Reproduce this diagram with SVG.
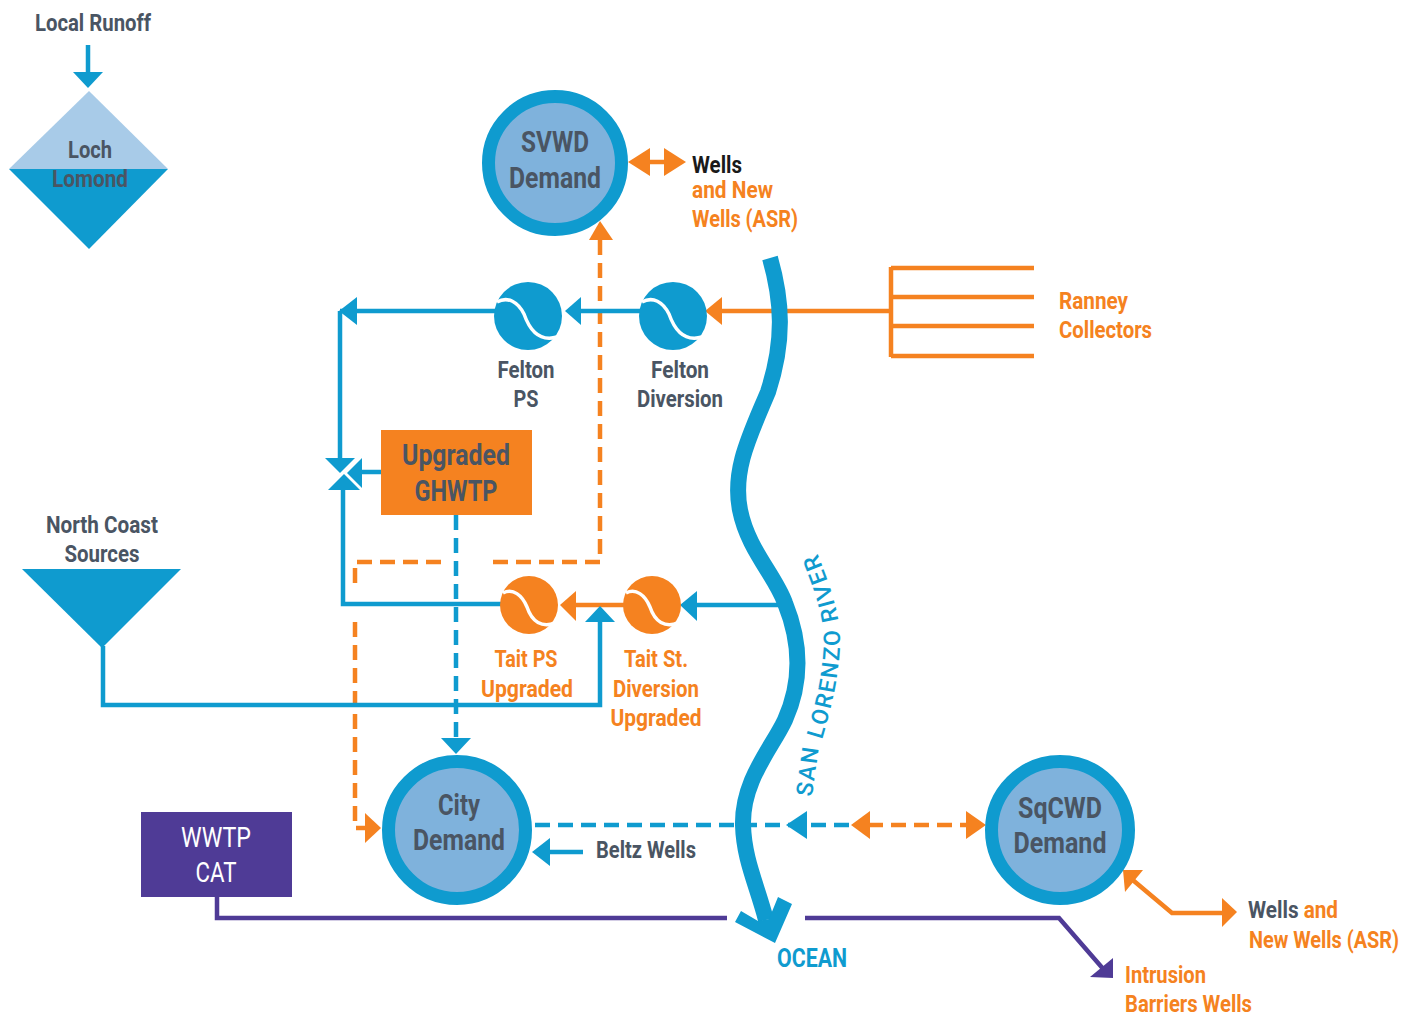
<svg xmlns="http://www.w3.org/2000/svg" width="1403" height="1017" viewBox="0 0 1403 1017">
<style>
text{font-family:"Roboto","Liberation Sans",sans-serif;font-size:24px;font-weight:700;text-anchor:middle}
.st{text-anchor:start}
.big{font-size:29px}
.d{fill:#4a5563}.o{fill:#f58220}.b{fill:#0f9bcf}.k{fill:#1a1a1a}.w{fill:#fff;font-weight:400}
.l{fill:none;stroke-width:4.5}
.cb{stroke:#0f9bcf}.co{stroke:#f58220}.cp{stroke:#4f3b96}
.da{stroke-dasharray:15 8}
.fb{fill:#0f9bcf}.fo{fill:#f58220}.fp{fill:#4f3b96}
.s{fill:none;stroke:#fff;stroke-width:3.5}
.ring{fill:#7fb2dc;stroke:#0f9bcf;stroke-width:13}
</style>
<defs><path id="riverlabel" d="M812 797L818 753C826 725 838 690 840 645C841 615 830 585 817 553"/></defs>
<rect width="1403" height="1017" fill="#fff"/>
<g id="connectors">
<path class="l cb" d="M88 45V75"/><polygon class="fb" points="73,72 103,72 88,88"/>
<path class="l co" d="M640 162H675"/><polygon class="fo" points="628,162 650,148 650,176"/><polygon class="fo" points="686,162 664,148 664,176"/>
<path class="l co da" d="M600 240V562H490"/>
<path class="l co da" d="M441 562H355V588"/>
<path class="l co da" d="M355 622V828H365"/>
<polygon class="fo" points="600,221 589,240 613,240"/>
<polygon class="fo" points="381,828 365,813 365,843"/>
<path class="l co" d="M715 311H891M891 267V357M891 268H1034M891 297H1034M891 326H1034M891 356H1034"/>
<polygon class="fo" points="705,311 722,297 722,325"/>
<path class="l cb" d="M575 311H645"/><polygon class="fb" points="565,311 581,297 581,325"/>
<path class="l cb" d="M340 311H500"/><polygon class="fb" points="339,311 357,297 357,325"/>
<path class="l cb" d="M340 311V460"/>
<path class="l cb" d="M343 488V604H505"/>
<path class="l cb" d="M358 472H382"/>
<path class="l cb da" d="M456 515V740"/><polygon class="fb" points="441,738 471,738 456,754"/>
<path class="l co" d="M570 605H630"/><polygon class="fo" points="560,605 576,591 576,621"/>
<path class="l cb" d="M690 605H785"/><polygon class="fb" points="680,605 697,591 697,621"/>
<path class="l cb" d="M103 646V705H600V620"/><polygon class="fb" points="600,606 585,622 615,622"/>
<path class="l cb da" d="M535 825H855"/>
<polygon class="fb" points="786,825 807,811 807,839"/>
<path class="l co da" d="M868 825H972"/>
<polygon class="fo" points="851,825 870,811 870,839"/><polygon class="fo" points="986,825 966,811 966,839"/>
<path class="l cb" d="M545 852H583"/><polygon class="fb" points="532,852 550,838 550,866"/>
<path class="l co" d="M1128 876L1172 913H1225"/><polygon class="fo" points="1123,870 1143,870 1125,892"/><polygon class="fo" points="1237,912 1222,898 1222,927"/>
<path class="l cp" d="M217 896V918H727M805 918H1059L1105 971"/><polygon class="fp" points="1090,977 1113,978 1113,958"/>
</g>
<g id="river">
<path fill="none" stroke="#0f9bcf" stroke-width="16" d="M770 258C782 300 785 340 768 392C750 435 732 470 740 510C748 550 775 575 785 603C800 640 803 680 785 720C772 748 742 780 743 825C744 860 757 885 766 920"/>
<polygon class="fb" points="741,911 735,922 775,943 792,904 778,897 769,919 758,921"/>
<text class="b" style="text-anchor:start;font-weight:500;font-size:23px;letter-spacing:1.8px"><textPath href="#riverlabel">SAN LORENZO RIVER</textPath></text>
<text class="b" x="812" y="967" textLength="70" lengthAdjust="spacingAndGlyphs" style="font-size:25px">OCEAN</text>
</g>
<g id="local-runoff"><text class="d" x="93" y="31" textLength="116" lengthAdjust="spacingAndGlyphs">Local Runoff</text></g>
<g id="loch-lomond">
<polygon fill="#a8cbe8" points="89,91 168,169 9,169"/>
<polygon class="fb" points="9,169 168,169 89,249"/>
<text class="d" x="90" y="158" textLength="44" lengthAdjust="spacingAndGlyphs">Loch</text><text class="d" x="90" y="187" textLength="76" lengthAdjust="spacingAndGlyphs">Lomond</text>
</g>
<g id="svwd-demand"><circle class="ring" cx="555" cy="163" r="66.5"/>
<text class="d big" x="555" y="152" textLength="68" lengthAdjust="spacingAndGlyphs">SVWD</text><text class="d big" x="555" y="188" textLength="92" lengthAdjust="spacingAndGlyphs">Demand</text></g>
<g id="svwd-wells"><text class="k st" x="692" y="173" textLength="50" lengthAdjust="spacingAndGlyphs">Wells</text>
<text class="o st" x="692" y="198" textLength="81" lengthAdjust="spacingAndGlyphs">and New</text><text class="o st" x="692" y="227" textLength="106" lengthAdjust="spacingAndGlyphs">Wells (ASR)</text></g>
<g id="ranney"><text class="o st" x="1059" y="309" textLength="69" lengthAdjust="spacingAndGlyphs">Ranney</text><text class="o st" x="1059" y="338" textLength="93" lengthAdjust="spacingAndGlyphs">Collectors</text></g>
<g id="felton-ps"><circle class="fb" cx="528" cy="316" r="34"/><path class="s" d="M497 302C508 296 518 302 524 314C530 331 540 342 557 337"/>
<text class="d" x="526" y="378" textLength="57" lengthAdjust="spacingAndGlyphs">Felton</text><text class="d" x="526" y="407" textLength="25" lengthAdjust="spacingAndGlyphs">PS</text></g>
<g id="felton-diversion"><circle class="fb" cx="673" cy="316" r="34"/><path class="s" d="M642 302C653 296 663 302 669 314C675 331 685 342 702 337"/>
<text class="d" x="680" y="378" textLength="58" lengthAdjust="spacingAndGlyphs">Felton</text><text class="d" x="680" y="407" textLength="86" lengthAdjust="spacingAndGlyphs">Diversion</text></g>
<g id="valve">
<polygon class="fb" points="325,458 355,458 340,473"/><polygon class="fb" points="328,490 360,490 344,474"/><polygon class="fb" points="347,473 362,458 362,488"/>
</g>
<g id="ghwtp"><rect class="fo" x="381" y="430" width="151" height="85"/>
<text class="d big" x="456" y="465" textLength="108" lengthAdjust="spacingAndGlyphs">Upgraded</text><text class="d big" x="456" y="501" textLength="83" lengthAdjust="spacingAndGlyphs">GHWTP</text></g>
<g id="north-coast"><polygon class="fb" points="22,569 181,569 102,648"/>
<text class="d" x="102" y="533" textLength="112" lengthAdjust="spacingAndGlyphs">North Coast</text><text class="d" x="102" y="562" textLength="75" lengthAdjust="spacingAndGlyphs">Sources</text></g>
<g id="tait-ps"><circle class="fo" cx="529" cy="605" r="29"/><path class="s" d="M503 593C513 588 522 595 527 607C532 622 542 628 555 623"/>
<text class="o" x="526" y="667" textLength="63" lengthAdjust="spacingAndGlyphs">Tait PS</text><text class="o" x="527" y="697" textLength="92" lengthAdjust="spacingAndGlyphs">Upgraded</text></g>
<g id="tait-diversion"><circle class="fo" cx="652" cy="605" r="29"/><path class="s" d="M626 593C636 588 645 595 650 607C655 622 665 628 678 623"/>
<text class="o" x="656" y="667" textLength="64" lengthAdjust="spacingAndGlyphs">Tait St.</text><text class="o" x="656" y="697" textLength="86" lengthAdjust="spacingAndGlyphs">Diversion</text><text class="o" x="656" y="726" textLength="91" lengthAdjust="spacingAndGlyphs">Upgraded</text></g>
<g id="city-demand"><circle class="ring" cx="457" cy="830" r="68.5"/>
<text class="d big" x="459" y="815" textLength="42" lengthAdjust="spacingAndGlyphs">City</text><text class="d big" x="459" y="850" textLength="92" lengthAdjust="spacingAndGlyphs">Demand</text></g>
<g id="beltz"><text class="d" x="646" y="858" textLength="100" lengthAdjust="spacingAndGlyphs">Beltz Wells</text></g>
<g id="wwtp"><rect class="fp" x="141" y="812" width="151" height="85"/>
<text class="w" x="216" y="847" textLength="70" lengthAdjust="spacingAndGlyphs" style="font-size:27px">WWTP</text><text class="w" x="216" y="882" textLength="41" lengthAdjust="spacingAndGlyphs" style="font-size:27px">CAT</text></g>
<g id="sqcwd-demand"><circle class="ring" cx="1060" cy="830" r="68.5"/>
<text class="d big" x="1060" y="818" textLength="84" lengthAdjust="spacingAndGlyphs">SqCWD</text><text class="d big" x="1060" y="853" textLength="93" lengthAdjust="spacingAndGlyphs">Demand</text></g>
<g id="sqcwd-wells"><text class="d st" x="1248" y="918" textLength="90" lengthAdjust="spacingAndGlyphs">Wells <tspan class="o">and</tspan></text><text class="o st" x="1249" y="948" textLength="150" lengthAdjust="spacingAndGlyphs">New Wells (ASR)</text></g>
<g id="intrusion"><text class="o st" x="1125" y="983" textLength="81" lengthAdjust="spacingAndGlyphs">Intrusion</text><text class="o st" x="1125" y="1012" textLength="127" lengthAdjust="spacingAndGlyphs">Barriers Wells</text></g>
</svg>
